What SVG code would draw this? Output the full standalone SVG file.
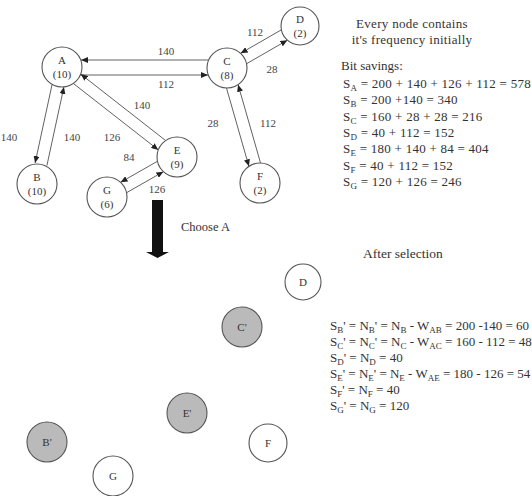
<svg xmlns="http://www.w3.org/2000/svg" width="532" height="496" viewBox="0 0 532 496">
<style>
.n{fill:#fff;stroke:#555;stroke-width:1.1}
.s{fill:#bababa;stroke:#555;stroke-width:1.1}
.t{font-family:"Liberation Serif","Times New Roman",serif;font-size:11px;fill:#333;text-anchor:middle}
.e{stroke:#505050;stroke-width:0.9;fill:none}
.a{marker-end:url(#ah)}
.l{font-family:"Liberation Serif","Times New Roman",serif;font-size:11px;fill:#444;text-anchor:middle}
.r{font-family:"Liberation Serif","Times New Roman",serif;font-size:13px;fill:#333}
.sb{font-size:9px}
</style>
<defs>
<marker id="ah" markerWidth="7" markerHeight="6" refX="7" refY="3" orient="auto" markerUnits="userSpaceOnUse">
<path d="M0,0 L7,3 L0,6 Z" fill="#222"/>
</marker>
</defs>
<rect width="532" height="496" fill="#fff"/>
<g id="connectors">
<line class="e a" x1="208.3" y1="60" x2="81" y2="60"/>
<line class="e a" x1="80.5" y1="75" x2="208" y2="75"/>
<line class="e a" x1="52.1" y1="84.4" x2="35.1" y2="163"/>
<line class="e a" x1="46.9" y1="165.6" x2="63.9" y2="87"/>
<line class="e a" x1="165.6" y1="140.5" x2="80.7" y2="74.1"/>
<line class="e a" x1="73.4" y1="83.5" x2="158.3" y2="149.9"/>
<line class="e a" x1="157.4" y1="161.3" x2="120.6" y2="182.3"/>
<line class="e a" x1="126.6" y1="192.7" x2="163.4" y2="171.7"/>
<line class="e a" x1="281.4" y1="29.8" x2="240.6" y2="53.3"/>
<line class="e a" x1="246.6" y1="63.7" x2="287.4" y2="40.2"/>
<line class="e a" x1="226.5" y1="88.1" x2="248.9" y2="166.3"/>
<line class="e a" x1="260.5" y1="162.9" x2="238.1" y2="84.7"/>
<text class="l" x="166" y="55">140</text>
<text class="l" x="166" y="88">112</text>
<text class="l" x="9" y="141">140</text>
<text class="l" x="72" y="141">140</text>
<text class="l" x="112" y="141">126</text>
<text class="l" x="142" y="109">140</text>
<text class="l" x="129" y="161">84</text>
<text class="l" x="157" y="193">126</text>
<text class="l" x="255" y="36">112</text>
<text class="l" x="272" y="73">28</text>
<text class="l" x="213" y="127">28</text>
<text class="l" x="268" y="127">112</text>
</g>
<g id="A"><circle class="n" cx="62" cy="67" r="20"/><text class="t" x="62" y="64">A</text><text class="t" x="62" y="78">(10)</text></g>
<g id="B"><circle class="n" cx="37" cy="184" r="20"/><text class="t" x="37" y="181">B</text><text class="t" x="37" y="195">(10)</text></g>
<g id="C"><circle class="n" cx="227" cy="68" r="20"/><text class="t" x="227" y="65">C</text><text class="t" x="227" y="79">(8)</text></g>
<g id="D"><circle class="n" cx="300" cy="26" r="19"/><text class="t" x="300" y="23">D</text><text class="t" x="300" y="37">(2)</text></g>
<g id="E"><circle class="n" cx="177" cy="157" r="20"/><text class="t" x="177" y="154">E</text><text class="t" x="177" y="168">(9)</text></g>
<g id="F"><circle class="n" cx="260" cy="183" r="20"/><text class="t" x="260" y="180">F</text><text class="t" x="260" y="194">(2)</text></g>
<g id="G"><circle class="n" cx="107" cy="197" r="20"/><text class="t" x="107" y="194">G</text><text class="t" x="107" y="208">(6)</text></g>
<g id="choose">
<path d="M152,200 H163 V252 H169 L157.5,258 L146,252 H152 Z" fill="#111"/>
<text class="r" x="181" y="231" style="font-size:12.5px">Choose A</text>
</g>
<g id="info">
<text class="r" x="412" y="28" text-anchor="middle" letter-spacing="0.3">Every node contains</text>
<text class="r" x="412" y="44" text-anchor="middle" letter-spacing="0.3">it's frequency initially</text>
<text class="r" x="341" y="70">Bit savings:</text>
<text class="r" x="343" y="88" letter-spacing="0.25">S<tspan class="sb" dy="3">A</tspan><tspan dy="-3"> = 200 + 140 + 126 + 112 = 578</tspan></text>
<text class="r" x="343" y="104" letter-spacing="0.25">S<tspan class="sb" dy="3">B</tspan><tspan dy="-3"> = 200 +140 = 340</tspan></text>
<text class="r" x="343" y="121" letter-spacing="0.25">S<tspan class="sb" dy="3">C</tspan><tspan dy="-3"> = 160 + 28 + 28 = 216</tspan></text>
<text class="r" x="343" y="137" letter-spacing="0.25">S<tspan class="sb" dy="3">D</tspan><tspan dy="-3"> = 40 + 112 = 152</tspan></text>
<text class="r" x="343" y="153" letter-spacing="0.25">S<tspan class="sb" dy="3">E</tspan><tspan dy="-3"> = 180 + 140 + 84 = 404</tspan></text>
<text class="r" x="343" y="170" letter-spacing="0.25">S<tspan class="sb" dy="3">F</tspan><tspan dy="-3"> = 40 + 112 = 152</tspan></text>
<text class="r" x="343" y="186" letter-spacing="0.25">S<tspan class="sb" dy="3">G</tspan><tspan dy="-3"> = 120 + 126 = 246</tspan></text>
<text class="r" x="363" y="258" style="font-size:13.5px">After selection</text>
</g>
<g id="D2"><circle class="n" cx="303" cy="282" r="18"/><text class="t" x="303" y="286">D</text></g>
<g id="C2"><circle class="s" cx="242" cy="327" r="20"/><text class="t" x="242" y="331">C'</text></g>
<g id="E2"><circle class="s" cx="187" cy="413" r="20"/><text class="t" x="187" y="417">E'</text></g>
<g id="B2"><circle class="s" cx="47" cy="442" r="20"/><text class="t" x="47" y="446">B'</text></g>
<g id="F2"><circle class="n" cx="268" cy="443" r="19"/><text class="t" x="268" y="447">F</text></g>
<g id="G2"><circle class="n" cx="113" cy="476" r="20"/><text class="t" x="113" y="480">G</text></g>
<g id="after">
<text class="r" x="330" y="330">S<tspan class="sb" dy="3">B</tspan><tspan dy="-3">' = N</tspan><tspan class="sb" dy="3">B</tspan><tspan dy="-3">' = N</tspan><tspan class="sb" dy="3">B</tspan><tspan dy="-3"> -  W</tspan><tspan class="sb" dy="3">AB</tspan><tspan dy="-3"> = 200 -140 = 60</tspan></text>
<text class="r" x="330" y="346">S<tspan class="sb" dy="3">C</tspan><tspan dy="-3">' = N</tspan><tspan class="sb" dy="3">C</tspan><tspan dy="-3">' = N</tspan><tspan class="sb" dy="3">C</tspan><tspan dy="-3"> -  W</tspan><tspan class="sb" dy="3">AC</tspan><tspan dy="-3"> = 160 - 112 = 48</tspan></text>
<text class="r" x="330" y="362">S<tspan class="sb" dy="3">D</tspan><tspan dy="-3">' = N</tspan><tspan class="sb" dy="3">D</tspan><tspan dy="-3"> = 40</tspan></text>
<text class="r" x="330" y="378">S<tspan class="sb" dy="3">E</tspan><tspan dy="-3">' = N</tspan><tspan class="sb" dy="3">E</tspan><tspan dy="-3">' = N</tspan><tspan class="sb" dy="3">E</tspan><tspan dy="-3"> -  W</tspan><tspan class="sb" dy="3">AE</tspan><tspan dy="-3"> = 180 - 126 = 54</tspan></text>
<text class="r" x="330" y="394">S<tspan class="sb" dy="3">F</tspan><tspan dy="-3">' = N</tspan><tspan class="sb" dy="3">F</tspan><tspan dy="-3"> = 40</tspan></text>
<text class="r" x="330" y="410">S<tspan class="sb" dy="3">G</tspan><tspan dy="-3">' = N</tspan><tspan class="sb" dy="3">G</tspan><tspan dy="-3"> = 120</tspan></text>
</g>
</svg>
